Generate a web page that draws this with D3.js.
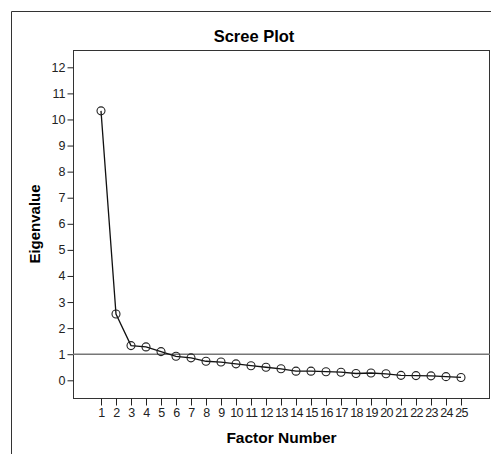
<!DOCTYPE html>
<html>
<head>
<meta charset="utf-8">
<script src="https://cdn.jsdelivr.net/npm/d3@7"></script>
<style>
body { margin: 0; background: #fff; }
text { font-family: Arial, "Liberation Sans", sans-serif; }
</style>
</head>
<body>
<script>
var factors = d3.range(1, 26);
var eigenvalues = [10.33, 2.54, 1.33, 1.28, 1.10, 0.92, 0.86, 0.73, 0.70, 0.63,
    0.56, 0.50, 0.44, 0.35, 0.35, 0.33, 0.31, 0.26, 0.28, 0.25,
    0.19, 0.18, 0.17, 0.14, 0.11];
var yTicks = d3.range(0, 13);
var refValue = 1;

var width = 491, height = 454;
var body = d3.select("body");

var svg = body.append("svg")
    .attr("width", width)
    .attr("height", height);

// outer frame
svg.append("path")
    .attr("d", "M11.5," + height + "V11.5H" + width)
    .attr("fill", "none")
    .attr("stroke", "#333");

var plot = {left: 73, top: 50, right: 490, bottom: 398};

svg.append("rect")
    .attr("x", plot.left + 0.5).attr("y", plot.top + 0.5)
    .attr("width", plot.right - plot.left - 1)
    .attr("height", plot.bottom - plot.top)
    .attr("fill", "none")
    .attr("stroke", "#333");

var x = d3.scaleLinear().domain([1, 25]).range([101, 461]);
var y = d3.scaleLinear().domain([0, 12]).range([380.3, 67.3]);

var yAxis = svg.append("g")
    .attr("transform", "translate(" + (plot.left + 0.5) + ",0)")
    .call(d3.axisLeft(y).tickValues(yTicks).tickSize(6).tickPadding(2).tickFormat(d3.format("d")));
var xAxis = svg.append("g")
    .attr("transform", "translate(0," + (plot.bottom + 0.5) + ")")
    .call(d3.axisBottom(x).tickValues(factors).tickSize(7).tickPadding(3).tickFormat(d3.format("d")));

[yAxis, xAxis].forEach(function(a) {
    a.attr("font-family", null);
    a.select(".domain").remove();
    a.selectAll(".tick line").attr("stroke", "#222");
    a.selectAll(".tick text")
        .attr("font-size", 12.5)
        .attr("fill", "#222");
});
xAxis.selectAll(".tick text").attr("letter-spacing", -0.6);

// reference line at eigenvalue 1
svg.append("line")
    .attr("x1", plot.left).attr("x2", plot.right)
    .attr("y1", y(refValue)).attr("y2", y(refValue))
    .attr("stroke", "#777")
    .attr("stroke-width", 1.5);

var pts = factors.map(function(f, i) { return [f, eigenvalues[i]]; });

svg.append("path")
    .datum(pts)
    .attr("d", d3.line().x(function(d) { return x(d[0]); }).y(function(d) { return y(d[1]); }))
    .attr("fill", "none")
    .attr("stroke", "#111")
    .attr("stroke-width", 1.3);

svg.selectAll("circle.pt")
    .data(pts)
    .enter().append("circle")
    .attr("class", "pt")
    .attr("cx", function(d) { return x(d[0]); })
    .attr("cy", function(d) { return y(d[1]); })
    .attr("r", 4)
    .attr("fill", "none")
    .attr("stroke", "#222")
    .attr("stroke-width", 1.1);

svg.append("text")
    .attr("x", 254).attr("y", 42)
    .attr("text-anchor", "middle")
    .attr("font-size", 16.5)
    .attr("font-weight", "bold")
    .text("Scree Plot");

svg.append("text")
    .attr("x", 281.5).attr("y", 443)
    .attr("text-anchor", "middle")
    .attr("font-size", 15.5)
    .attr("font-weight", "bold")
    .text("Factor Number");

svg.append("text")
    .attr("transform", "translate(40,224) rotate(-90)")
    .attr("text-anchor", "middle")
    .attr("font-size", 15)
    .attr("font-weight", "bold")
    .text("Eigenvalue");
</script>
</body>
</html>
